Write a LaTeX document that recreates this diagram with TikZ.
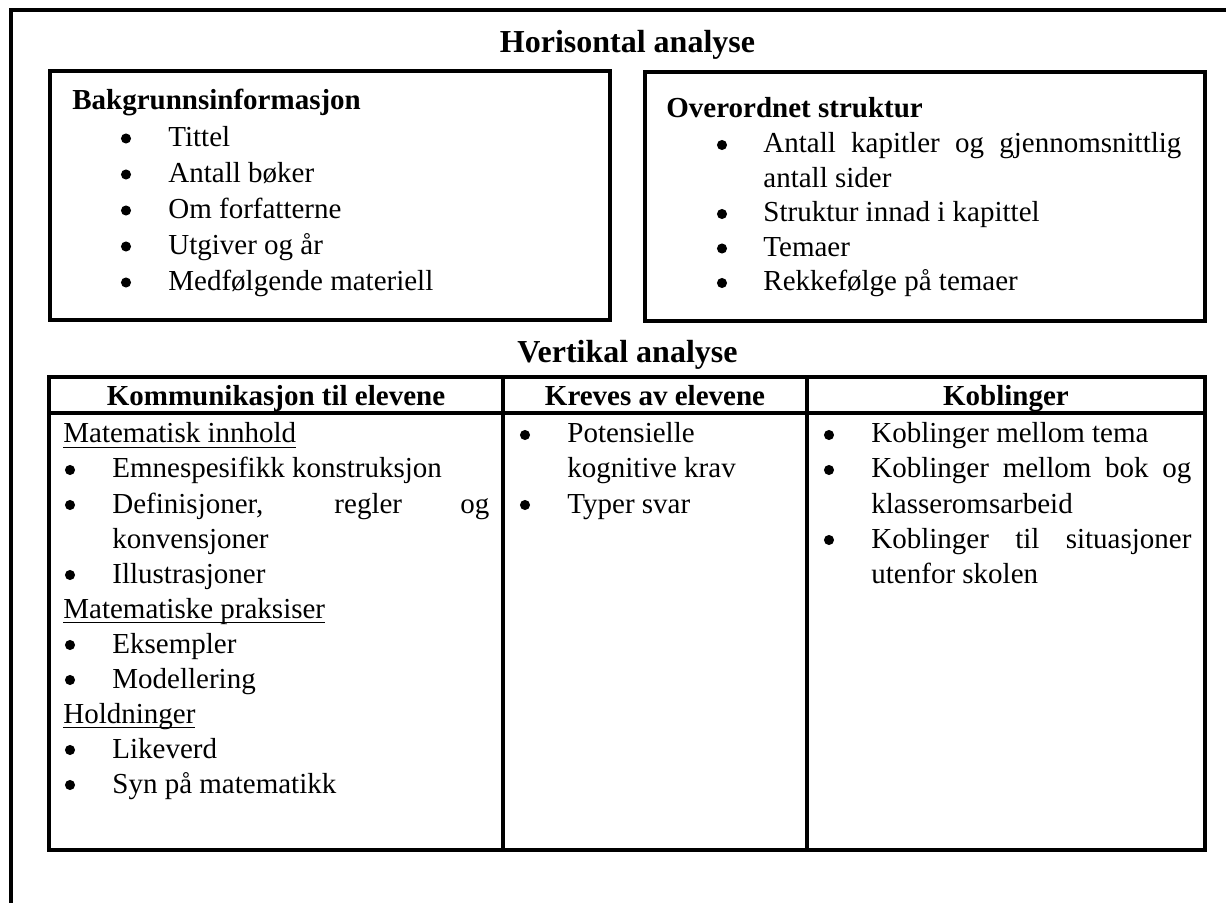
\documentclass[tikz,border=0pt]{standalone}
\usepackage{fontspec}
\setmainfont{Liberation Serif}
\newcommand{\bodyfont}{\fontsize{14.5pt}{17pt}\selectfont}
\newcommand{\titlefont}{\fontsize{16pt}{19pt}\selectfont}
\newcommand{\ulx}[1]{{\setbox0\hbox{#1}\rlap{\rule[-2.6pt]{\wd0}{0.8pt}}\box0}}
\tikzset{
  frameline/.style={line width=2pt},
  boxline/.style={draw, line width=1.8pt},
  tabline/.style={draw, line width=2pt},
  txt/.style={anchor=base west, inner sep=0pt, font=\bodyfont},
  ttl/.style={anchor=base, inner sep=0pt, font=\titlefont\bfseries},
  colhd/.style={anchor=base, inner sep=0pt, font=\bodyfont\bfseries},
  hd/.style={anchor=base west, inner sep=0pt, font=\bodyfont\bfseries},
  bul/.style={circle, draw=black, fill=black, line width=0.6pt, inner sep=0pt, minimum size=4.4pt, yshift=4pt},
}
\begin{document}
\begin{tikzpicture}[x=0.5pt,y=-0.5pt]
\useasboundingbox (0,0) rectangle (1226,903);
\clip (0,0) rectangle (1226,903);
% outer frame
\draw[frameline] (10.5,910) -- (10.5,10.5) -- (1240,10.5);
% titles
\node[ttl] (th) at (627.5,53) {Horisontal analyse};
\node[ttl] (tv) at (627.5,363) {Vertikal analyse};
% left box
\draw[boxline] (50,71) rectangle (610,320);
\node[hd] (bh) at (72,110) {Bakgrunnsinformasjon};
\foreach \y/\t [count=\i] in {146.5/Tittel, 182.5/Antall bøker, 218.5/Om forfatterne, 254.5/Utgiver og år, 290.5/Medfølgende materiell}{
  \node[bul] (bb\i) at (126,\y) {};
  \node[txt] (bt\i) at (168,\y) {\t};
}
% right box
\draw[boxline] (645,72) rectangle (1205,321);
\node[hd] (oh) at (666,118) {Overordnet struktur};
\node[bul] (ob1) at (722,153) {};
\node[txt] (ot1) at (763,153) {\makebox[209pt][s]{Antall kapitler og gjennomsnittlig}};
\node[txt] (ot1b) at (763,187.5) {antall sider};
\node[bul] (ob2) at (722,222) {};
\node[txt] (ot2) at (763,222) {Struktur innad i kapittel};
\node[bul] (ob3) at (722,256.5) {};
\node[txt] (ot3) at (763,256.5) {Temaer};
\node[bul] (ob4) at (722,291) {};
\node[txt] (ot4) at (763,291) {Rekkefølge på temaer};
% table
\draw[tabline] (49,377) rectangle (1205,850);
\draw[tabline] (49,413) -- (1205,413);
\draw[tabline] (503,377) -- (503,850);
\draw[tabline] (807,377) -- (807,850);
\node[colhd] (h1) at (276,406) {Kommunikasjon til elevene};
\node[colhd] (h2) at (655,406) {Kreves av elevene};
\node[colhd] (h3) at (1006,406) {Koblinger};
% column 1
\node[txt] (u1) at (63,443) {\ulx{Matematisk innhold}};
\node[bul] (c1b1) at (70,478) {};
\node[txt] (c1t1) at (112,478) {Emnespesifikk konstruksjon};
\node[bul] (c1b2) at (70,513) {};
\node[txt] (c1t2) at (112,513) {\makebox[188.5pt][s]{Definisjoner, regler og}};
\node[txt] (c1t2b) at (112,548) {konvensjoner};
\node[bul] (c1b3) at (70,583) {};
\node[txt] (c1t3) at (112,583) {Illustrasjoner};
\node[txt] (u2) at (63,618) {\ulx{Matematiske praksiser}};
\node[bul] (c1b4) at (70,653) {};
\node[txt] (c1t4) at (112,653) {Eksempler};
\node[bul] (c1b5) at (70,688) {};
\node[txt] (c1t5) at (112,688) {Modellering};
\node[txt] (u3) at (63,723) {\ulx{Holdninger}};
\node[bul] (c1b6) at (70,758) {};
\node[txt] (c1t6) at (112,758) {Likeverd};
\node[bul] (c1b7) at (70,793) {};
\node[txt] (c1t7) at (112,793) {Syn på matematikk};
% column 2
\node[bul] (c2b1) at (525,443) {};
\node[txt] (c2t1) at (567,443) {Potensielle};
\node[txt] (c2t1b) at (567,478) {kognitive krav};
\node[bul] (c2b2) at (525,513) {};
\node[txt] (c2t2) at (567,513) {Typer svar};
% column 3
\node[bul] (c3b1) at (829,443) {};
\node[txt] (c3t1) at (871,443) {Koblinger mellom tema};
\node[bul] (c3b2) at (829,478) {};
\node[txt] (c3t2) at (871,478) {\makebox[160pt][s]{Koblinger mellom bok og}};
\node[txt] (c3t2b) at (871,513) {klasseromsarbeid};
\node[bul] (c3b3) at (829,548) {};
\node[txt] (c3t3) at (871,548) {\makebox[160pt][s]{Koblinger til situasjoner}};
\node[txt] (c3t3b) at (871,583) {utenfor skolen};
\end{tikzpicture}
\end{document}
